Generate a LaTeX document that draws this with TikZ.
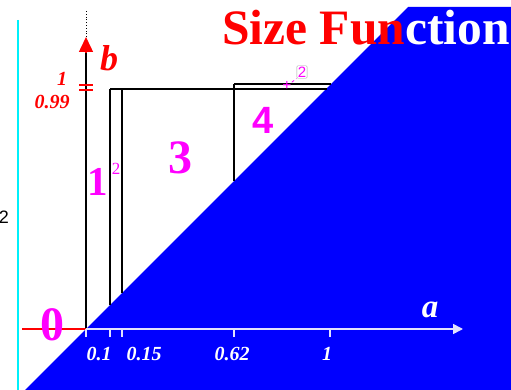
\documentclass[tikz,border=0pt]{standalone}
\usepackage{fontspec}
\setmainfont{Liberation Serif}
\setsansfont{Liberation Sans}
\usetikzlibrary{arrows.meta,positioning,calc}
\definecolor{sfblue}{RGB}{0,0,255}
\definecolor{sfmag}{RGB}{255,0,255}
\definecolor{sfcyan}{RGB}{0,240,250}
\definecolor{axwhite}{RGB}{225,225,255}

\begin{document}
\begin{tikzpicture}[x=1pt, y=-1pt,
  region/.style={draw, line width=1.5pt, black},
  num/.style={text=sfmag, inner sep=0pt, font=\bfseries\fontsize{#1}{#1}\selectfont},
  xlab/.style={text=white, inner sep=0pt, font=\bfseries\itshape\fontsize{20}{20}\selectfont},
  ylab/.style={text=red, inner sep=0pt, font=\bfseries\itshape\fontsize{20}{20}\selectfont},
  title/.style={inner sep=0pt, font=\bfseries\fontsize{49.5}{50}\selectfont},
  axarr/.style={draw=axwhite, line width=1.6pt, -{Triangle[width=10pt,length=10pt]}}
]
\useasboundingbox (0,0) rectangle (511,390);

% half plane below the diagonal
\fill[sfblue] (25,390) -- (408,7) -- (511,7) -- (511,390) -- cycle;

\draw[sfcyan, line width=2.6pt] (18,20) -- (18,390);
\node[anchor=east, inner sep=0pt, font=\sffamily\fontsize{18}{18}\selectfont] (lefttwo) at (9,217) {2};

\node[title, text=red, anchor=base west] (titlea) at (222,45) {Size Fun};
\node[title, text=white, anchor=base west] (titleb) at (titlea.base east) {ction};

\coordinate (O) at (86,329);
\coordinate (ytip) at (86,37);
\coordinate (ybase) at (86,52);
\coordinate (ytop) at (86,10);
\coordinate (xend) at (463,329);
\coordinate (xneg) at (22,329);

% size function regions
\coordinate (p1) at (110,89);
\coordinate (p2) at (327,89);
\coordinate (p3) at (110,305);
\coordinate (p4) at (122,89);
\coordinate (p5) at (122,293);
\coordinate (q1) at (234,84);
\coordinate (q2) at (331,84);
\coordinate (q3) at (234,181);
\draw[region] (p1) -- (p2);
\draw[region] (p1) -- (p3);
\draw[region] (p4) -- (p5);
\draw[region] (q1) -- (q2);
\draw[region] (q1) -- (q3);

% axes
\draw[black, line width=1.5pt] (O) -- (ybase);
\draw[red, line width=1.5pt, -{Triangle[width=14pt,length=15pt]}] (ybase) -- (ytip);
\draw[black, dotted, thick] (ytip) -- (ytop);
\draw[red, line width=2pt] (xneg) -- (O);
\draw[axarr] (O) -- (xend);
\foreach \x in {86,110,122,234,330}
  \draw[axwhite, line width=1.2pt] (\x,329) -- (\x,337);
\node[xlab] (l01) at (99,354) {0.1};
\node[xlab] (l015) at (144,354) {0.15};
\node[xlab] (l062) at (232,354) {0.62};
\node[xlab] (l1) at (327,354) {1};
\node[text=white, inner sep=0pt, font=\bfseries\itshape\fontsize{33}{33}\selectfont] (alab) at (430,310) {a};

\draw[red, line width=1.2pt] (79,85) -- (93,85);
\draw[red, line width=1.2pt] (79,90) -- (93,90);
\node[ylab] (y1) at (62,79) {1};
\node[ylab] (y099) at (52,102) {0.99};
\node[text=red, inner sep=0pt, font=\bfseries\itshape\fontsize{36}{36}\selectfont] (blab) at (109,58) {b};

% multiplicities
\node[num=48] (zero) at (52,325) {0};
\node[num=41] (m1) at (98,182) {1};
\node[text=sfmag, inner sep=0pt, font=\fontsize{17}{17}\selectfont] (m1sup) at (116,169) {2};
\node[num=48] (m3) at (180,158) {3};
\node[num=38, font=\sffamily\bfseries\fontsize{38}{38}\selectfont] (m4) at (263,120) {4};
\node[text=sfmag, inner sep=0pt, font=\bfseries\fontsize{16}{16}\selectfont] (cross) at (287,86) {+};
\node[draw=gray!70, fill=white, rounded corners=1pt, inner sep=1pt, text=sfmag,
      font=\sffamily\fontsize{15}{15}\selectfont] (mult) at (302,72) {2};
\draw[sfmag, dashed, thick] (cross) -- (mult.south west);
\end{tikzpicture}
\end{document}
